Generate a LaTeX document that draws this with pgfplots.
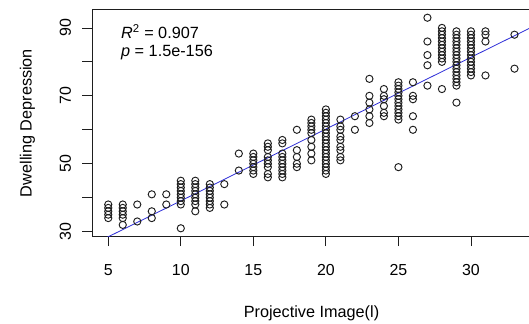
\documentclass[border=0pt]{standalone}
\usepackage{fontspec}
\setmainfont{Liberation Sans}
\usepackage{pgfplots}
\pgfplotsset{compat=1.18}
\definecolor{fitblue}{RGB}{45,45,215}
\definecolor{ink}{RGB}{30,30,30}
\begin{document}
\begin{tikzpicture}
\path[use as bounding box] (-92bp,-87.3bp) rectangle (437bp,236.7bp);
\begin{axis}[
  at={(0,0)}, anchor=south west,
  scale only axis, width=437bp, height=227.4bp,
  xmin=3.88, xmax=34.0, ymin=28.52, ymax=95.48,
  axis x line*=bottom, axis y line*=left,
  axis line style={line width=0.8bp, ink},
  tick align=outside,
  major tick length=9.5bp, minor tick length=9.5bp,
  every tick/.style={line width=0.8bp, ink},
  xtick={5,10,15,20,25,30},
  ytick={30,50,70,90},
  minor ytick={40,60,80},
  /pgf/number format/assume math mode=true,
  tick label style={font=\fontsize{16}{19}\selectfont},
  xticklabel style={anchor=base, yshift=-29.3bp},
  yticklabel style={xshift=-11.5bp, rotate=90, anchor=base},
  xlabel={Projective Image(l)},
  ylabel={Dwelling Depression},
  label style={font=\fontsize{16.3}{19}\selectfont},
  xlabel style={at={(rel axis cs:0.5023,-0.3553)}, anchor=base},
  ylabel style={at={(rel axis cs:-0.138,0.5)}, anchor=base},
  clip=true,
]
\addplot[only marks, mark=o, mark size=3.6bp, mark options={line width=0.95bp, draw=ink, fill=none}] coordinates {
(5,34) (5,35) (5,36) (5,37) (5,38)
(6,32) (6,34) (6,35) (6,36) (6,37) (6,38)
(7,33) (7,38)
(8,34) (8,36) (8,41)
(9,38) (9,41)
(10,31) (10,38) (10,39) (10,40) (10,41) (10,42) (10,43) (10,44) (10,45)
(11,36) (11,38) (11,39) (11,40) (11,41) (11,42) (11,43) (11,44) (11,45)
(12,37) (12,38) (12,39) (12,40) (12,41) (12,42) (12,43) (12,44)
(13,38) (13,44)
(14,48) (14,53)
(15,47) (15,48) (15,49) (15,50) (15,51) (15,52) (15,53)
(16,46) (16,47) (16,49) (16,50) (16,51) (16,52) (16,54) (16,55) (16,56)
(17,46) (17,47) (17,48) (17,49) (17,50) (17,51) (17,52) (17,53) (17,56) (17,57)
(18,49) (18,50) (18,52) (18,54) (18,60)
(19,51) (19,53) (19,55) (19,57) (19,59) (19,60) (19,61) (19,62) (19,63)
(20,47) (20,48) (20,49) (20,50) (20,51) (20,52) (20,53) (20,54) (20,55) (20,56)
(20,57) (20,58) (20,59) (20,60) (20,61) (20,62) (20,63) (20,64) (20,65) (20,66)
(21,51) (21,52) (21,54) (21,55) (21,57) (21,58) (21,60) (21,61) (21,63)
(22,60) (22,64)
(23,62) (23,64) (23,66) (23,68) (23,70) (23,75)
(24,64) (24,65) (24,67) (24,69) (24,70) (24,72)
(25,49) (25,63) (25,64) (25,65) (25,66) (25,67) (25,68) (25,69) (25,70) (25,71) (25,72) (25,73) (25,74)
(26,60) (26,64) (26,69) (26,70) (26,74)
(27,73) (27,79) (27,82) (27,86) (27,93)
(28,72) (28,80) (28,81) (28,82) (28,83) (28,84) (28,85) (28,86) (28,87) (28,88) (28,89) (28,90)
(29,68) (29,73) (29,74) (29,75) (29,76) (29,77) (29,78) (29,79) (29,80) (29,81) (29,82) (29,83)
(29,84) (29,85) (29,86) (29,87) (29,88) (29,89)
(30,76) (30,77) (30,78) (30,79) (30,80) (30,81) (30,82) (30,83) (30,84) (30,85) (30,86) (30,87) (30,88) (30,89)
(31,76) (31,86) (31,88) (31,89)
(33,78) (33,88)
};
\addplot[fitblue, line width=0.8bp] coordinates {(3.88,26.13) (34.0,89.81)};
\end{axis}
\draw[line width=0.8bp, ink] (0,227.4bp) -- (437bp,227.4bp);
\node[anchor=base west, inner sep=0pt, font=\fontsize{16.3}{19}\selectfont] at (29bp,198bp) {\textit{R}\textsuperscript{2} = 0.907};
\node[anchor=base west, inner sep=0pt, font=\fontsize{16.3}{19}\selectfont] at (29bp,180.5bp) {\textit{p} = 1.5e-156};
\end{tikzpicture}
\end{document}
